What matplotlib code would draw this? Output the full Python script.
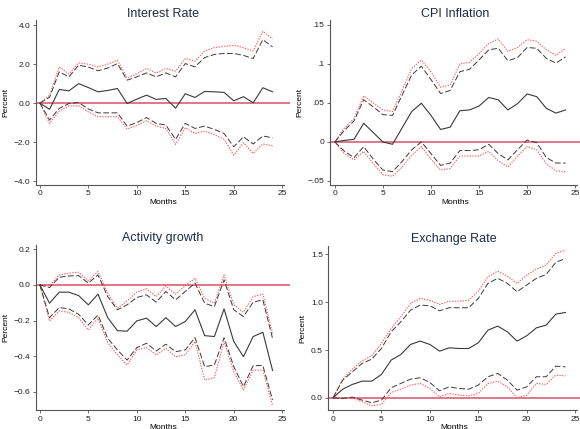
import numpy as np
import matplotlib
matplotlib.use("Agg")
import matplotlib.pyplot as plt

plt.rcParams['font.family'] = ['Liberation Sans', 'DejaVu Sans']

months = np.arange(25)

# interest rate
ir_mid = [0, -0.32, 0.7, 0.63, 1.0, 0.8, 0.58, 0.65, 0.75, -0.02, 0.2, 0.41, 0.19, 0.24, -0.26,
          0.48, 0.29, 0.6, 0.58, 0.55, 0.12, 0.33, 0.02, 0.79, 0.58]
ir_hi90 = [0, 0.3, 1.6, 1.35, 1.95, 1.85, 1.66, 1.8, 2.03, 1.18, 1.35, 1.55, 1.35, 1.55, 1.35,
           2.03, 1.86, 2.34, 2.5, 2.55, 2.55, 2.45, 2.29, 3.26, 2.89]
ir_lo90 = [0, -0.87, -0.27, -0.02, 0.03, -0.3, -0.5, -0.5, -0.5, -1.18, -1.0, -0.74, -1.04, -1.13, -1.86,
           -1.04, -1.3, -1.18, -1.35, -1.56, -2.24, -1.73, -2.1, -1.69, -1.78]
ir_hi95 = [0, 0.4, 1.86, 1.5, 2.07, 2.0, 1.86, 2.0, 2.2, 1.3, 1.5, 1.78, 1.55, 1.78, 1.64,
           2.29, 2.15, 2.68, 2.85, 2.92, 2.97, 2.85, 2.68, 3.69, 3.3]
ir_lo95 = [0, -1.04, -0.41, -0.14, -0.14, -0.45, -0.7, -0.7, -0.7, -1.33, -1.15, -0.91, -1.18, -1.3, -2.12,
           -1.26, -1.56, -1.44, -1.62, -1.86, -2.67, -2.03, -2.58, -2.1, -2.19]

# cpi inflation
cpi_mid = [0, 0.002, 0.0034, 0.024, 0.012, 0.0, -0.003, 0.018, 0.039, 0.0496, 0.034, 0.016, 0.019, 0.040,
           0.041, 0.046, 0.057, 0.054, 0.041, 0.049, 0.0615, 0.058, 0.043, 0.037, 0.041]
cpi_hi90 = [0, 0.015, 0.027, 0.054, 0.045, 0.035, 0.034, 0.06, 0.086, 0.097, 0.08, 0.062, 0.066, 0.09,
            0.093, 0.105, 0.118, 0.12, 0.104, 0.108, 0.121, 0.12, 0.107, 0.101, 0.109]
cpi_lo90 = [0, -0.012, -0.02, -0.006, -0.022, -0.036, -0.038, -0.025, -0.01, 0.0, -0.015, -0.03, -0.027,
            -0.011, -0.011, -0.01, -0.003, -0.015, -0.023, -0.01, 0.0025, -0.001, -0.02, -0.027, -0.027]
cpi_hi95 = [0, 0.018, 0.030, 0.059, 0.05, 0.041, 0.039, 0.066, 0.094, 0.105, 0.09, 0.07, 0.073, 0.1,
            0.102, 0.113, 0.126, 0.132, 0.116, 0.121, 0.131, 0.129, 0.118, 0.111, 0.12]
cpi_lo95 = [0, -0.015, -0.023, -0.012, -0.028, -0.042, -0.044, -0.032, -0.017, -0.006, -0.022, -0.036, -0.034,
            -0.018, -0.018, -0.018, -0.012, -0.024, -0.032, -0.018, -0.006, -0.01, -0.028, -0.037, -0.038]

# activity growth
act_mid = [0, -0.103, -0.041, -0.041, -0.06, -0.112, -0.052, -0.184, -0.257, -0.26, -0.202, -0.187, -0.234,
           -0.184, -0.234, -0.206, -0.14, -0.285, -0.29, -0.135, -0.318, -0.403, -0.29, -0.266, -0.48]
act_hi90 = [0, -0.015, 0.043, 0.05, 0.052, 0.01, 0.056, -0.066, -0.14, -0.112, -0.071, -0.056, -0.097,
            -0.037, -0.084, -0.037, 0.01, -0.103, -0.122, 0.028, -0.14, -0.178, -0.097, -0.084, -0.3]
act_lo90 = [0, -0.184, -0.127, -0.135, -0.165, -0.225, -0.169, -0.3, -0.365, -0.422, -0.352, -0.328, -0.371,
            -0.333, -0.375, -0.365, -0.296, -0.459, -0.45, -0.296, -0.459, -0.571, -0.453, -0.453, -0.646]
act_hi95 = [0, -0.004, 0.056, 0.066, 0.071, 0.022, 0.075, -0.047, -0.131, -0.09, -0.041, -0.022, -0.066,
            -0.006, -0.052, -0.004, 0.037, -0.075, -0.103, 0.056, -0.112, -0.154, -0.066, -0.052, -0.272]
act_lo95 = [0, -0.202, -0.146, -0.154, -0.184, -0.253, -0.187, -0.324, -0.393, -0.45, -0.365, -0.352, -0.393,
            -0.356, -0.403, -0.393, -0.318, -0.534, -0.521, -0.318, -0.487, -0.59, -0.478, -0.478, -0.678]

# exchange rate
fx_mid = [0, 0.09, 0.14, 0.174, 0.174, 0.244, 0.394, 0.453, 0.558, 0.593, 0.558, 0.488, 0.523, 0.516,
          0.516, 0.575, 0.708, 0.75, 0.69, 0.593, 0.649, 0.732, 0.76, 0.875, 0.893]
fx_hi90 = [0, 0.185, 0.272, 0.359, 0.405, 0.516, 0.69, 0.795, 0.917, 0.97, 0.963, 0.91, 0.942, 0.942,
           0.942, 1.04, 1.197, 1.25, 1.197, 1.11, 1.18, 1.25, 1.29, 1.416, 1.458]
fx_lo90 = [0, -0.007, 0.007, -0.024, -0.052, -0.024, 0.105, 0.15, 0.195, 0.21, 0.16, 0.073, 0.115, 0.098,
           0.09, 0.133, 0.22, 0.255, 0.185, 0.08, 0.115, 0.22, 0.22, 0.331, 0.324]
fx_hi95 = [0, 0.195, 0.3, 0.387, 0.44, 0.569, 0.725, 0.848, 0.987, 1.04, 1.02, 0.977, 1.01, 1.01,
           1.02, 1.116, 1.266, 1.325, 1.273, 1.196, 1.283, 1.346, 1.388, 1.51, 1.545]
fx_lo95 = [0, -0.007, 0.0, -0.042, -0.084, -0.07, 0.056, 0.09, 0.133, 0.15, 0.098, 0.01, 0.045, 0.028,
           0.021, 0.045, 0.15, 0.174, 0.115, 0.0, 0.028, 0.15, 0.14, 0.237, 0.23]

panels = [
    ("Interest Rate", ir_mid, ir_hi90, ir_lo90, ir_hi95, ir_lo95,
     [4, 2, 0, -2, -4], ["4.0", "2.0", "0.0", "\u22122.0", "\u22124.0"]),
    ("CPI Inflation", cpi_mid, cpi_hi90, cpi_lo90, cpi_hi95, cpi_lo95,
     [0.15, 0.1, 0.05, 0, -0.05], [".15", ".1", ".05", "0", "\u2212.05"]),
    ("Activity growth", act_mid, act_hi90, act_lo90, act_hi95, act_lo95,
     [0.2, 0, -0.2, -0.4, -0.6], ["0.2", "0.0", "\u22120.2", "\u22120.4", "\u22120.6"]),
    ("Exchange Rate", fx_mid, fx_hi90, fx_lo90, fx_hi95, fx_lo95,
     [1.5, 1.0, 0.5, 0.0], ["1.5", "1.0", "0.5", "0.0"]),
]

boxes = [
    [0.062, 0.569, 0.438, 0.384],
    [0.569, 0.569, 0.431, 0.384],
    [0.062, 0.044, 0.438, 0.385],
    [0.566, 0.044, 0.434, 0.383],
]
xlims = [(-0.4, 25.8), (-0.5, 25.5), (-0.4, 25.8), (-0.49, 25.5)]
ylims = [(-4.2, 4.26), (-0.055, 0.156), (-0.703, 0.224), (-0.129, 1.59)]

fig = plt.figure(figsize=(5.8, 4.29), dpi=100)
axis_col = "#555555"

for (title, mid, hi90, lo90, hi95, lo95, ticks, labels), box, xl, yl in zip(panels, boxes, xlims, ylims):
    ax = fig.add_axes(box)
    ax.axhline(0, color="#d9506a", lw=1.1, zorder=1)
    ax.plot(months, hi95, color="#ff5a5a", lw=0.8, ls=(0, (1.2, 1.2)), zorder=2)
    ax.plot(months, lo95, color="#ff5a5a", lw=0.8, ls=(0, (1.2, 1.2)), zorder=2)
    ax.plot(months, hi90, color="#3a3a3a", lw=0.7, ls=(0, (6, 2.5)), zorder=3)
    ax.plot(months, lo90, color="#3a3a3a", lw=0.7, ls=(0, (6, 2.5)), zorder=3)
    ax.plot(months, mid, color="#3a3a3a", lw=0.8, zorder=4)
    ax.set_xlim(*xl)
    ax.set_ylim(*yl)
    ax.set_xticks([0, 5, 10, 15, 20, 25])
    ax.set_yticks(ticks)
    ax.set_yticklabels(labels)
    ax.tick_params(labelsize=6, length=2.5, width=0.6, color=axis_col, pad=1.5, labelcolor="#222222")
    for s in ["top", "right"]:
        ax.spines[s].set_visible(False)
    for s in ["left", "bottom"]:
        ax.spines[s].set_color(axis_col)
        ax.spines[s].set_linewidth(0.8)
    ax.spines["bottom"].set_bounds(xl[0], 25.2)
    ax.set_title(title, fontsize=9, color="#1e2a4a", pad=2.5)
    ax.set_ylabel("Percent", fontsize=6, labelpad=3)
    ax.set_xlabel("Months", fontsize=6, labelpad=1)

fig.savefig("out.png", dpi=100)
